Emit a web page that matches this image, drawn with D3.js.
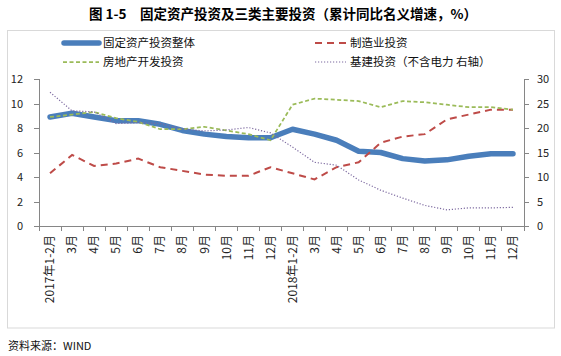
<!DOCTYPE html>
<html><head><meta charset="utf-8">
<script src="https://cdn.jsdelivr.net/npm/d3@7"></script>
<style>
body{margin:0;background:#fff;}
svg{display:block;}
text{font-family:"Noto Sans CJK SC",sans-serif;}
</style></head>
<body>
<svg id="c" width="561" height="356"></svg>
<script>
const categories = ["2017年1-2月","3月","4月","5月","6月","7月","8月","9月","10月","11月","12月",
                    "2018年1-2月","3月","4月","5月","6月","7月","8月","9月","10月","11月","12月"];
const fixedAsset   = [8.9,9.2,8.9,8.6,8.6,8.3,7.8,7.5,7.3,7.2,7.2, 7.9,7.5,7.0,6.1,6.0,5.5,5.3,5.4,5.7,5.9,5.9];
const manufacturing= [4.3,5.8,4.9,5.1,5.5,4.8,4.5,4.2,4.1,4.1,4.8, 4.3,3.8,4.8,5.2,6.8,7.3,7.5,8.7,9.1,9.5,9.5];
const realEstate   = [8.9,9.1,9.3,8.8,8.5,7.9,7.9,8.1,7.8,7.5,7.0, 9.9,10.4,10.3,10.2,9.7,10.2,10.1,9.9,9.7,9.7,9.5];
const infraRight   = [27.3,23.5,23.3,20.9,21.1,20.9,19.8,19.4,19.6,20.1,19.0, 16.1,13.0,12.4,9.4,7.3,5.7,4.2,3.3,3.7,3.7,3.8];
const leftTicks  = [0,2,4,6,8,10,12];
const rightTicks = [0,5,10,15,20,25,30];
const seriesNames = ["固定资产投资整体","制造业投资","房地产开发投资","基建投资（不含电力 右轴）"];
const title = "图 1-5　固定资产投资及三类主要投资（累计同比名义增速，%）";
const source = "资料来源：WIND";

const svg = d3.select("#c");
const axisColor = "#868686";

// outer border
svg.append("rect").attr("x",7.5).attr("y",30.5).attr("width",547).attr("height",297.5)
  .attr("fill","none").attr("stroke","#d9d9d9").attr("stroke-width",1);

// title
svg.append("text").attr("x",283).attr("y",19).attr("text-anchor","middle")
  .attr("font-size",13.5).attr("font-weight","bold").attr("fill","#000").text(title);

const x = d3.scaleBand().domain(d3.range(categories.length)).range([39,524]);
const yL = d3.scaleLinear().domain([0,12]).range([226,79]);
const yR = d3.scaleLinear().domain([0,30]).range([226,79]);
const cx = i => x(i) + x.bandwidth()/2;

// axes
const gL = svg.append("g").attr("transform","translate(39,0)")
  .call(d3.axisLeft(yL).tickValues(leftTicks).tickSize(5).tickPadding(11));
const gR = svg.append("g").attr("transform","translate(524,0)")
  .call(d3.axisRight(yR).tickValues(rightTicks).tickSize(5).tickPadding(8));
const gX = svg.append("g").attr("transform","translate(0,226)")
  .call(d3.axisBottom(x).tickValues([]).tickSizeOuter(0));
[gL,gR,gX].forEach(g=>{
  g.selectAll("path,line").attr("stroke",axisColor).attr("shape-rendering","crispEdges");
  g.selectAll("text").attr("font-family","Liberation Sans, Arial, sans-serif").attr("font-size",11).attr("fill","#222");
});
gL.select(".domain").attr("d","M0,79V226");
gR.select(".domain").attr("d","M0,79V226");
// category boundary ticks on x axis
gX.selectAll(".bt").data(d3.range(categories.length+1)).enter().append("line")
  .attr("x1",i=>39 + i*x.step()).attr("x2",i=>39 + i*x.step())
  .attr("y1",0).attr("y2",5).attr("stroke",axisColor).attr("shape-rendering","crispEdges");
// x labels rotated
gX.selectAll(".xl").data(categories).enter().append("text")
  .attr("transform",(d,i)=>`translate(${cx(i)},9) rotate(-90)`)
  .attr("text-anchor","end").attr("dy","0.35em")
  .attr("font-family","Liberation Serif, 'Noto Sans CJK SC', serif")
  .attr("font-size",12).attr("fill","#222").text(d=>d);

// lines
const lineL = d3.line().x((d,i)=>cx(i)).y(d=>yL(d));
const lineR = d3.line().x((d,i)=>cx(i)).y(d=>yR(d));
svg.append("path").attr("d",lineL(fixedAsset)).attr("fill","none")
  .attr("stroke","#4A7EBB").attr("stroke-width",5.5).attr("stroke-linejoin","round").attr("stroke-linecap","round");
svg.append("path").attr("d",lineL(manufacturing)).attr("fill","none")
  .attr("stroke","#BE4B48").attr("stroke-width",2).attr("stroke-dasharray","7,5");
svg.append("path").attr("d",lineL(realEstate)).attr("fill","none")
  .attr("stroke","#9BBB59").attr("stroke-width",1.75).attr("stroke-dasharray","4,2.5");
svg.append("path").attr("d",lineR(infraRight)).attr("fill","none")
  .attr("stroke","#7D6AA0").attr("stroke-width",1.2).attr("stroke-dasharray","1.2,1.8");

// legend
const leg = [
  {x1:64,x2:99,y:43,name:seriesNames[0],stroke:"#4A7EBB",w:5.5,dash:null,cap:"round"},
  {x1:315,x2:346,y:43,name:seriesNames[1],stroke:"#BE4B48",w:2,dash:"7,5",cap:"butt"},
  {x1:63,x2:99,y:62,name:seriesNames[2],stroke:"#9BBB59",w:1.75,dash:"4,2.5",cap:"butt"},
  {x1:315,x2:346,y:62,name:seriesNames[3],stroke:"#7D6AA0",w:1.2,dash:"1.2,1.8",cap:"butt"}
];
const lg = svg.append("g");
leg.forEach(l=>{
  lg.append("line").attr("x1",l.x1).attr("x2",l.x2).attr("y1",l.y).attr("y2",l.y)
    .attr("stroke",l.stroke).attr("stroke-width",l.w).attr("stroke-dasharray",l.dash).attr("stroke-linecap",l.cap);
  lg.append("text").attr("x",l.x2+4).attr("y",l.y).attr("dy","0.36em")
    .attr("font-size",11.5).attr("fill","#111").text(l.name);
});

// source
svg.append("text").attr("x",8).attr("y",346).attr("dy","0.35em").attr("font-size",11)
  .attr("fill","#111").text(source);
</script>
</body></html>
